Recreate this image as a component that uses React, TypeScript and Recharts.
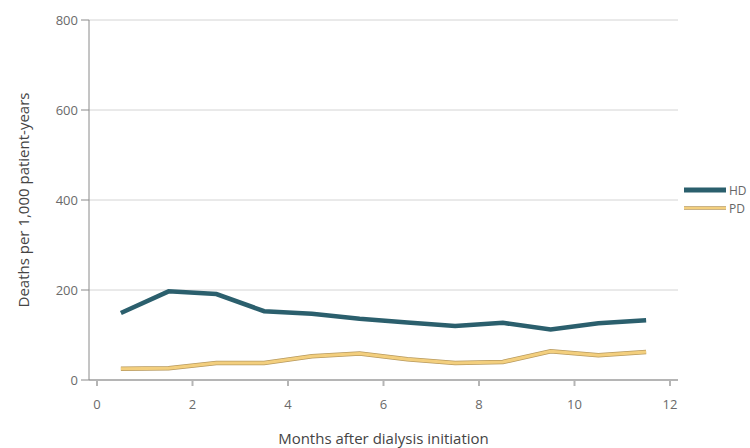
import { CartesianGrid, Legend, Line, LineChart, XAxis, YAxis } from 'recharts';

// midpoints of each month after initiation
const months = [0.5, 1.5, 2.5, 3.5, 4.5, 5.5, 6.5, 7.5, 8.5, 9.5, 10.5, 11.5];
const hdRates = [149, 197, 191, 153, 147, 136, 128, 120, 127, 112, 126, 133];
const pdRates = [25, 26, 38, 38, 53, 59, 46, 38, 40, 64, 55, 62];
const xTicks = [0, 2, 4, 6, 8, 10, 12];
const yTicks = [0, 200, 400, 600, 800];

const data = months.map((m, i) => ({ month: m, HD: hdRates[i], PD: pdRates[i] }));

const HD_COLOR = '#2b5f6d';
const PD_COLOR = '#f3cf7e';
const PD_EDGE = '#b89a5e';
const FONT = '"Open Sans", "Noto Sans", sans-serif';

function SeriesLegend() {
  const items = [
    { name: 'HD', color: HD_COLOR, edge: HD_COLOR, width: 5 },
    { name: 'PD', color: PD_COLOR, edge: PD_EDGE, width: 3.5 },
  ];
  return (
    <div style={{ fontFamily: FONT, fontSize: 12, color: '#666' }}>
      {items.map((it) => (
        <div key={it.name} style={{ display: 'flex', alignItems: 'center', height: 18 }}>
          <svg width={42} height={8}>
            <line x1={0} x2={42} y1={4} y2={4} stroke={it.edge} strokeWidth={it.width} />
            <line x1={0} x2={42} y1={4} y2={4} stroke={it.color} strokeWidth={it.width - 1.5} />
          </svg>
          <span style={{ marginLeft: 3 }}>{it.name}</span>
        </div>
      ))}
    </div>
  );
}

export default function App() {
  const tick = { fill: '#6a6a6a', fontSize: 13, fontFamily: FONT };
  return (
    <div style={{ width: 750, height: 448, overflow: 'hidden', background: '#fff', position: 'relative' }}>
      <style>{'body{margin:0}'}</style>
      <LineChart
        width={750}
        height={448}
        data={data}
        margin={{ top: 20, right: 72, bottom: 0, left: 0 }}
      >
        <CartesianGrid vertical={false} stroke="#d4d4d4" />
        <XAxis
          dataKey="month"
          type="number"
          domain={[0, 12]}
          ticks={xTicks}
          padding={{ left: 8, right: 8 }}
          height={68}
          stroke="#b5b5b5"
          strokeWidth={2}
          tickSize={6}
          tickMargin={14}
          tick={tick}
          label={{
            value: 'Months after dialysis initiation',
            position: 'insideBottom',
            offset: 4,
            style: { fill: '#444', fontSize: 15, fontFamily: FONT },
          }}
        />
        <YAxis
          domain={[0, 800]}
          ticks={yTicks}
          width={89}
          stroke="#8a8a8a"
          tickSize={8}
          tickMargin={3}
          tick={tick}
          label={{
            value: 'Deaths per 1,000 patient-years',
            angle: -90,
            position: 'insideLeft',
            offset: 0,
            dx: 24,
            style: { textAnchor: 'middle', fill: '#444', fontSize: 15, fontFamily: FONT },
          }}
        />
        <Legend
          layout="horizontal"
          verticalAlign="middle"
          align="center"
          content={<SeriesLegend />}
          wrapperStyle={{ top: 181, left: 684, width: 66, height: 40 }}
        />
        <Line dataKey="HD" stroke={HD_COLOR} strokeWidth={4.5} dot={false} isAnimationActive={false} legendType="none" />
        <Line dataKey="PD" stroke={PD_EDGE} strokeWidth={4.5} dot={false} isAnimationActive={false} legendType="none" />
        <Line dataKey="PD" stroke={PD_COLOR} strokeWidth={3} dot={false} isAnimationActive={false} legendType="none" />
      </LineChart>
    </div>
  );
}
